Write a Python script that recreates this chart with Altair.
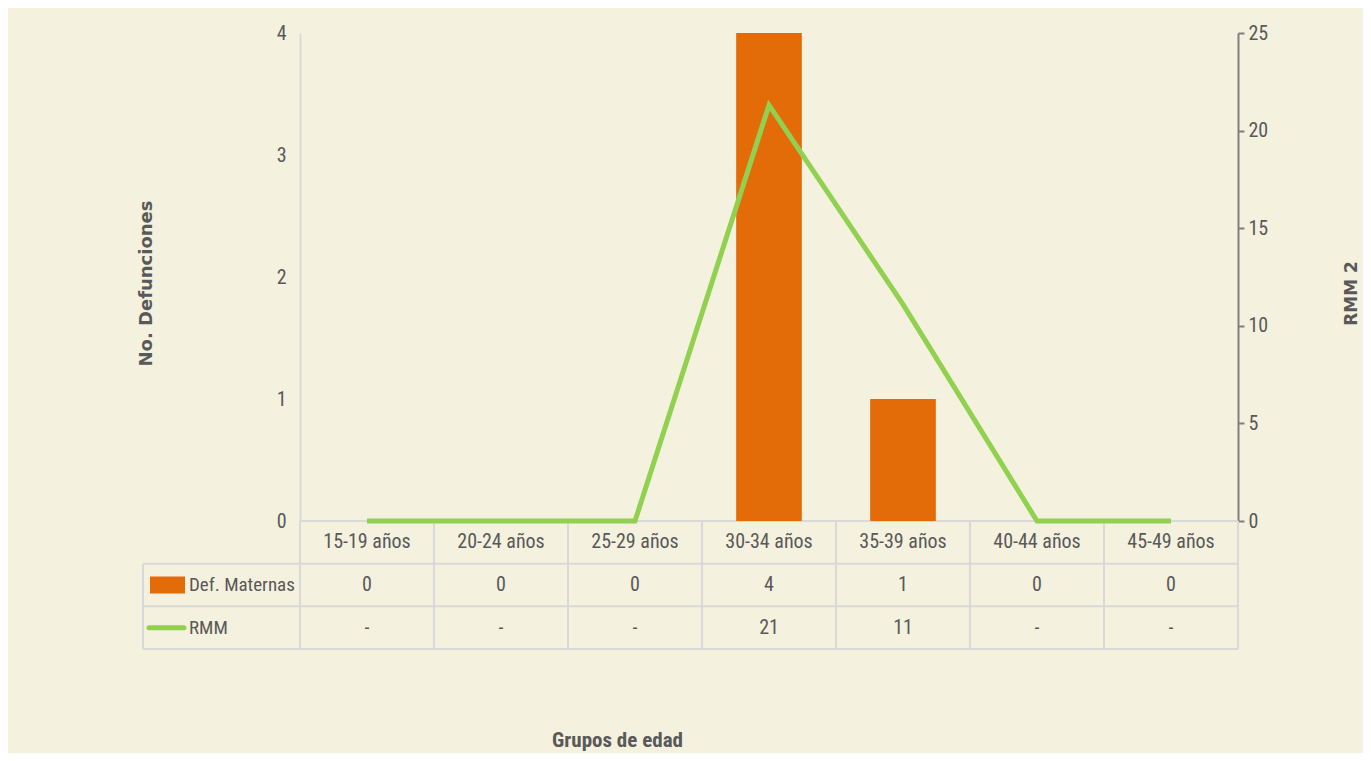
import altair as alt
import pandas as pd

# ---- data ----
categorias = ["15-19 años", "20-24 años", "25-29 años", "30-34 años",
              "35-39 años", "40-44 años", "45-49 años"]
defunciones = [0, 0, 0, 4, 1, 0, 0]
rmm = [0, 0, 0, 21.3, 11.1, 0, 0]
rmm_tabla = ["-", "-", "-", "21", "11", "-", "-"]
filas = ["Def. Maternas", "RMM"]

# ---- style ----
BG = "#f4f1df"
GRIS = "#595959"
NARANJA = "#e36c09"
VERDE = "#92d050"
LINEA = "#d9d9d9"
FONT = "Liberation Sans Narrow, Roboto Condensed, DejaVu Sans Condensed, Liberation Sans"
TFONT = "DejaVu Sans"
W, H = 938, 488
TABLE_RANGE = [H, H + 128]

df = pd.DataFrame({"cat": categorias, "def": defunciones, "rmm": rmm})

xenc = dict(sort=categorias, scale=alt.Scale(type="band", paddingInner=0, paddingOuter=0))
tscale = alt.Scale(domain=[0, 3], range=TABLE_RANGE)

base = alt.Chart(df)

bars = base.mark_bar(color=NARANJA, width=alt.RelativeBandSize(0.49)).encode(
    x=alt.X("cat:N", axis=alt.Axis(labels=False, ticks=False, domain=False,
                                   title="Grupos de edad", titleX=317, titleY=219,
                                   titleAlign="center", titleBaseline="middle",
                                   titleFont=FONT, titleFontSize=21, titleFontWeight="bold",
                                   titleColor=GRIS), **xenc),
    y=alt.Y("def:Q", scale=alt.Scale(domain=[0, 4]),
            axis=alt.Axis(orient="left", values=[0, 1, 2, 3, 4], ticks=False, grid=False,
                          domainColor=LINEA, domainWidth=2, labelPadding=14,
                          labelFont=FONT, labelFontSize=20, labelColor=GRIS,
                          title="No. Defunciones", titleX=-154, titleY=250, titleAngle=270,
                          titleAlign="center", titleBaseline="middle",
                          titleFont=TFONT, titleFontSize=18, titleFontWeight="bold",
                          titleColor=GRIS)),
)

line = base.mark_line(color=VERDE, strokeWidth=5, strokeJoin="miter").encode(
    x=alt.X("cat:N", **xenc),
    y=alt.Y("rmm:Q", scale=alt.Scale(domain=[0, 25]),
            axis=alt.Axis(orient="right", values=[0, 5, 10, 15, 20, 25], grid=False,
                          tickSize=6, tickColor="#7f7f7f", tickWidth=2,
                          domainColor="#7f7f7f", domainWidth=2, labelPadding=4,
                          labelFont=FONT, labelFontSize=20, labelColor=GRIS,
                          title="RMM 2", titleX=113, titleY=260, titleAngle=270,
                          titleAlign="center", titleBaseline="middle",
                          titleFont=TFONT, titleFontSize=17, titleFontWeight="bold",
                          titleColor=GRIS)),
)

# ---- data table under the plot ----
tabla = pd.DataFrame({
    "cat": categorias * 3,
    "fila": [0.5] * 7 + [1.5] * 7 + [2.5] * 7,
    "txt": categorias + [str(v) for v in defunciones] + rmm_tabla,
})
texto = alt.Chart(tabla).mark_text(font=FONT, fontSize=20, color=GRIS, baseline="middle").encode(
    x=alt.X("cat:N", **xenc),
    y=alt.Y("fila:Q", scale=tscale, axis=None),
    text="txt:N",
)

bordes = pd.DataFrame({"cat": categorias, "y0": [0] * 7, "y1": [3] * 7})
vlineas = alt.Chart(bordes).mark_rule(color=LINEA, strokeWidth=2).encode(
    x=alt.X("cat:N", bandPosition=0, **xenc),
    y=alt.Y("y0:Q", scale=tscale, axis=None),
    y2="y1:Q",
)
vfin = alt.Chart(bordes.tail(1)).mark_rule(color=LINEA, strokeWidth=2).encode(
    x=alt.X("cat:N", bandPosition=1, **xenc),
    y=alt.Y("y0:Q", scale=tscale, axis=None),
    y2="y1:Q",
)

hl = pd.DataFrame({"y": [0, 1, 2, 3], "x0": [0, -157, -157, -157]})
hlineas = alt.Chart(hl).mark_rule(color=LINEA, strokeWidth=2).encode(
    x=alt.X("x0:Q", scale=None),
    x2=alt.value(W),
    y=alt.Y("y:Q", scale=tscale, axis=None),
)
vizq = alt.Chart(pd.DataFrame({"y0": [1], "y1": [3]})).mark_rule(color=LINEA, strokeWidth=2).encode(
    x=alt.value(-157),
    y=alt.Y("y0:Q", scale=tscale, axis=None),
    y2="y1:Q",
)

leyenda = pd.DataFrame({"fila": [1.5, 2.5], "txt": filas})
ley_txt = alt.Chart(leyenda).mark_text(font=FONT, fontSize=19, color=GRIS, align="left",
                                       baseline="middle").encode(
    x=alt.value(-111),
    y=alt.Y("fila:Q", scale=tscale, axis=None),
    text="txt:N",
)
sw1 = alt.Chart(leyenda.head(1)).mark_rule(color=NARANJA, strokeWidth=17).encode(
    x=alt.value(-150), x2=alt.value(-115),
    y=alt.Y("fila:Q", scale=tscale, axis=None),
)
sw2 = alt.Chart(leyenda.tail(1)).mark_rule(color=VERDE, strokeWidth=5, strokeCap="round").encode(
    x=alt.value(-151), x2=alt.value(-116),
    y=alt.Y("fila:Q", scale=tscale, axis=None),
)

chart = alt.layer(
    vlineas, vfin, hlineas, vizq, bars, line, texto, ley_txt, sw1, sw2
).resolve_scale(y="independent").properties(
    width=W, height=H,
    background=BG,
    padding={"left": 292, "top": 25, "right": 125, "bottom": 232},
    autosize=alt.AutoSizeParams(type="none"),
).configure_view(stroke=None)

chart.save("out.html", embed_options={"renderer": "svg", "actions": False})
